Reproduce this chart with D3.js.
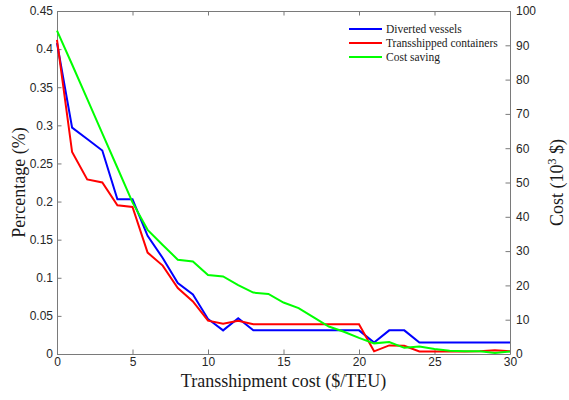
<!DOCTYPE html>
<html>
<head>
<meta charset="utf-8">
<script src="https://cdn.jsdelivr.net/npm/d3@7"></script>
<style>
    body { margin: 0; background: #fff; }
    .tick text { font-family: "Liberation Sans", Arial, sans-serif; font-size: 12px; fill: #262626; }
    .axis path, .axis line { stroke: #7a7a7a; stroke-width: 1; }
    .title { font-family: "Liberation Serif", "Times New Roman", serif; font-size: 18px; fill: #1a1a1a; }
    .legend text { font-family: "Liberation Serif", "Times New Roman", serif; font-size: 11.5px; fill: #1a1a1a; }
</style>
</head>
<body>
<div id="chart"></div>
<script>
// transshipment cost ($/TEU)
const transshipCost = [0, 1, 2, 3, 4, 5, 6, 7, 8, 9, 10, 11, 12, 13, 14, 15,
    16, 17, 18, 19, 20, 21, 22, 23, 24, 25, 26, 27, 28, 29, 30];

// percentage of diverted vessels
const divertedVessels = [0.408, 0.297, 0.282, 0.267, 0.203, 0.203, 0.155, 0.126, 0.093, 0.078,
    0.046, 0.031, 0.047, 0.031, 0.031, 0.031, 0.031, 0.031, 0.031, 0.031,
    0.031, 0.0152, 0.031, 0.031, 0.0152, 0.0152, 0.0152, 0.0152, 0.0152, 0.0152, 0.0152];

// percentage of transshipped containers
const transshippedContainers = [0.412, 0.265, 0.229, 0.225, 0.195, 0.193, 0.133, 0.116, 0.0865, 0.069,
    0.0437, 0.0397, 0.0437, 0.039, 0.039, 0.039, 0.039, 0.039, 0.039, 0.039,
    0.039, 0.0035, 0.0113, 0.0109, 0.0034, 0.0034, 0.0034, 0.0034, 0.0036, 0.005, 0.0035];

// cost saving (10^3 $), right axis
const costSaving = [94.3, 84.4, 74.4, 64.3, 54.3, 44.2, 36.2, 31.8, 27.5, 27.0,
    23.0, 22.6, 20.1, 17.9, 17.5, 15.0, 13.4, 10.7, 8.0, 6.5,
    4.7, 3.1, 3.5, 1.8, 2.2, 1.45, 0.95, 0.8, 0.8, 0.3, 0.7];

const xTicks = [0, 5, 10, 15, 20, 25, 30];
const leftTicks = [0, 0.05, 0.1, 0.15, 0.2, 0.25, 0.3, 0.35, 0.4, 0.45];
const rightTicks = [0, 10, 20, 30, 40, 50, 60, 70, 80, 90, 100];

const seriesNames = ["Diverted vessels", "Transshipped containers", "Cost saving"];
const seriesColors = ["#0000ff", "#ff0000", "#00ff00"];

const svgWidth = 569,
    svgHeight = 400,
    margin = { top: 11, right: 59, bottom: 46, left: 57 },
    width = svgWidth - margin.left - margin.right,
    height = svgHeight - margin.top - margin.bottom;

let svg = d3.select("#chart").append("svg")
    .attr("width", svgWidth)
    .attr("height", svgHeight)
    .append("g")
    .attr("transform", `translate(${margin.left},${margin.top})`);

let xScale = d3.scaleLinear().domain([0, 30]).range([0, width]),
    yLeft = d3.scaleLinear().domain([0, 0.45]).range([height, 0]),
    yRight = d3.scaleLinear().domain([0, 100]).range([height, 0]);

// axes, matlab style with inward ticks and a box
svg.append("g")
    .attr("class", "axis")
    .attr("transform", `translate(0,${height})`)
    .call(d3.axisBottom(xScale).tickValues(xTicks).tickSizeInner(-4.5).tickSizeOuter(0).tickPadding(3));
svg.append("g")
    .attr("class", "axis")
    .call(d3.axisTop(xScale).tickValues(xTicks).tickSizeInner(-4.5).tickSizeOuter(0).tickFormat(""));
svg.append("g")
    .attr("class", "axis")
    .call(d3.axisLeft(yLeft).tickValues(leftTicks).tickSizeInner(-4.5).tickSizeOuter(0).tickPadding(4)
        .tickFormat((d) => String(+d.toFixed(2))));
svg.append("g")
    .attr("class", "axis")
    .attr("transform", `translate(${width},0)`)
    .call(d3.axisRight(yRight).tickValues(rightTicks).tickSizeInner(-4.5).tickSizeOuter(0).tickPadding(6));

// lines
let lineLeft = d3.line()
    .x((d, i) => xScale(transshipCost[i]))
    .y((d) => yLeft(d));
let lineRight = d3.line()
    .x((d, i) => xScale(transshipCost[i]))
    .y((d) => yRight(d));

svg.append("path")
    .attr("d", lineLeft(divertedVessels))
    .attr("fill", "none").attr("stroke", seriesColors[0]).attr("stroke-width", 2);
svg.append("path")
    .attr("d", lineLeft(transshippedContainers))
    .attr("fill", "none").attr("stroke", seriesColors[1]).attr("stroke-width", 2);
svg.append("path")
    .attr("d", lineRight(costSaving))
    .attr("fill", "none").attr("stroke", seriesColors[2]).attr("stroke-width", 2);

// axis titles
svg.append("text")
    .attr("class", "title")
    .attr("text-anchor", "middle")
    .attr("x", width / 2)
    .attr("y", height + 33)
    .text("Transshipment cost ($/TEU)");
svg.append("text")
    .attr("class", "title")
    .attr("text-anchor", "middle")
    .attr("transform", `translate(-32,${height / 2}) rotate(-90)`)
    .text("Percentage (%)");
let costTitle = svg.append("text")
    .attr("class", "title")
    .attr("text-anchor", "middle")
    .attr("transform", `translate(${width + 53},${height / 2}) rotate(-90)`);
costTitle.append("tspan").text("Cost (10");
costTitle.append("tspan").attr("dy", -7).attr("font-size", "12px").text("3");
costTitle.append("tspan").attr("dy", 7).text(" $)");

// legend
let legend = svg.append("g")
    .attr("class", "legend")
    .attr("transform", `translate(${349 - margin.left},${29 - margin.top})`);
seriesNames.forEach((name, i) => {
    let row = legend.append("g").attr("transform", `translate(0,${i * 14})`);
    row.append("line")
        .attr("x1", 0).attr("x2", 33)
        .attr("stroke", seriesColors[i]).attr("stroke-width", 2);
    row.append("text")
        .attr("x", 37)
        .attr("dy", "0.35em")
        .text(name);
});
</script>
</body>
</html>
